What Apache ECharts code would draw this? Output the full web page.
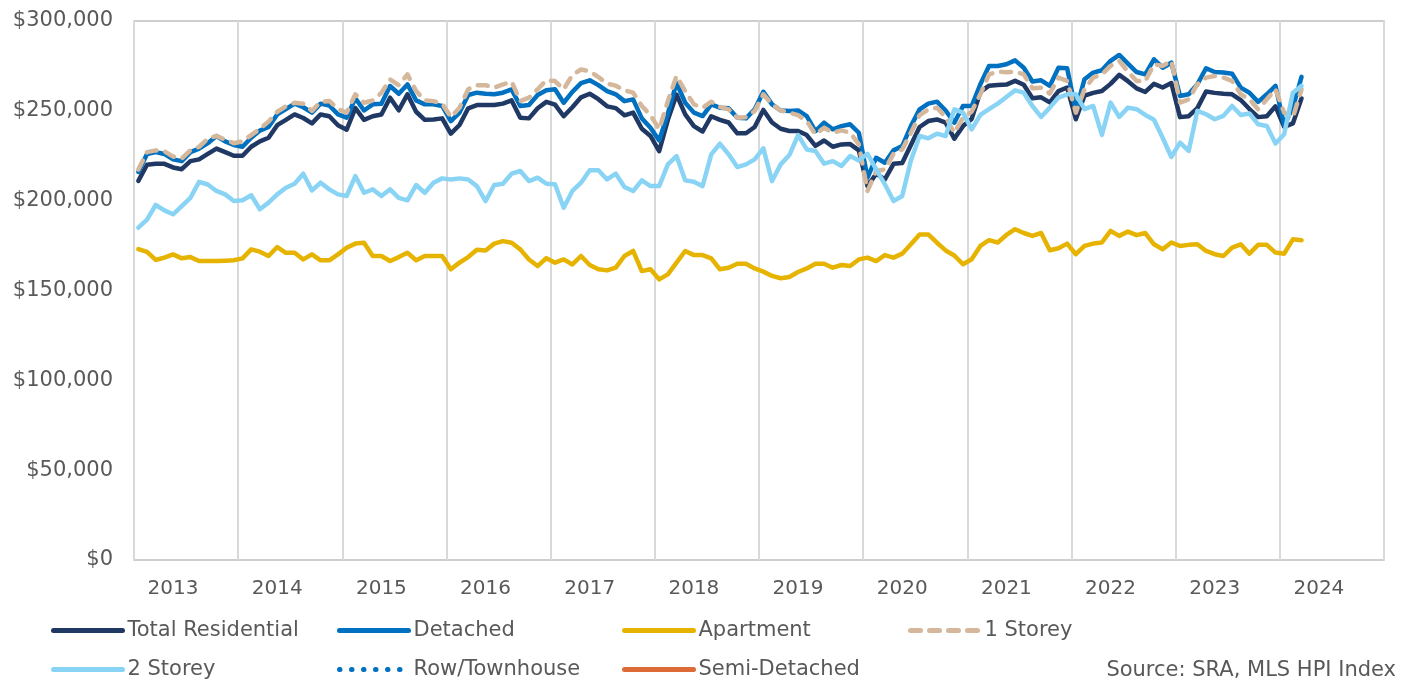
<!DOCTYPE html>
<html>
<head>
<meta charset="utf-8">
<script src="https://cdn.jsdelivr.net/npm/echarts@6/dist/echarts.min.js"></script>
<style>
html,body{margin:0;padding:0;background:#fff;}
#chart{width:1404px;height:686px;}
</style>
</head>
<body>
<div id="chart"></div>
<script>
// ---------- DATA (values in thousands of dollars, monthly from Jan 2013) ----------
const years = ['2013','2014','2015','2016','2017','2018','2019','2020','2021','2022','2023','2024'];
const monthNums = ['01','02','03','04','05','06','07','08','09','10','11','12'];
const yTicks = [0, 50000, 100000, 150000, 200000, 250000, 300000];

const totalResidential = [
  211, 220, 220.5, 220.5, 218.5, 217.5, 222, 223, 226, 229, 227, 225,
  225, 230, 233, 235, 242, 245, 248, 246, 243, 248, 247, 242,
  239.5, 251.5, 245, 247, 248, 257.3, 250.3, 259.2, 249.5, 245, 245.2, 245.8,
  237.3, 242.1, 251.4, 253.2, 253.2, 253.2, 254, 255.8, 246.2, 245.8, 251.4, 255,
  253.5, 247, 252, 257.5, 259.5, 256.5, 252.5, 251.5, 247.5, 249, 240, 236,
  227.5, 245, 259, 248, 241.5, 238.5, 247, 245, 243.5, 237.5, 237.5, 241,
  250.5, 243.5, 240, 238.8, 238.8, 236.5, 230.5, 233.5, 230, 231.3, 231.5, 228,
  208, 215, 211.8, 220.5, 221, 231, 241, 244.3, 245.2, 243.4, 234.5, 241.5,
  245.5, 260.5, 264, 264.4, 264.6, 266.7, 264.5, 257, 257.5, 254.7, 261, 263,
  245.3, 258.5, 260, 261, 265, 270, 266.5, 262.5, 260.5, 265, 263, 265.5,
  246.5, 247, 251.5, 260.8, 260, 259.5, 259.2, 256, 251, 246.5, 247, 252.5,
  241, 243, 257
];
const detached = [
  216, 226, 227, 226, 223, 222, 227, 229, 232, 236, 233, 231,
  230, 235, 239, 241, 248, 251, 254, 252, 249, 254, 253, 248,
  246.2, 257, 250.2, 253.6, 254, 263.8, 259.5, 264.7, 255.8, 253.6, 253.6, 252.7,
  244.3, 249, 258.8, 260.1, 259.5, 259.2, 260.1, 261.9, 252.7, 253.2, 258.8, 261.4,
  262, 254.5, 260.6, 265.4, 267, 264.3, 261, 259.2, 255.4, 256.4, 245.8, 240.6,
  233.5, 248.4, 265.6, 254.5, 249, 247.1, 253.6, 251.7, 251.4, 246.2, 245.8, 250.8,
  260.6, 253.6, 250.2, 249.9, 250.2, 247.1, 238.7, 243.4, 239.7, 241.5, 242.5, 237.8,
  212.8, 223.9, 221.1, 228, 230.4, 241.5, 250.8, 254, 255.1, 250.2, 243.4, 252.7,
  252.7, 264.8, 275, 275, 275.9, 278.1, 274, 266.3, 267, 263.9, 274, 273.7,
  250, 267.6, 271.3, 272.6, 277.8, 281.1, 276.3, 271.6, 270.3, 278.7, 274, 276.8,
  258.3, 259.2, 264.8, 273.7, 271.6, 271.3, 270.7, 262.9, 260.1, 255, 259.2, 263.9,
  242, 251.8, 268.9
];
const apartment = [
  173, 171.5, 167, 168.3, 170.1, 167.9, 168.6, 166.4, 166.4, 166.4, 166.6, 166.8,
  167.9, 172.9, 171.6, 169.2, 174.2, 171, 171, 167.3, 170.1, 166.8, 166.8, 170.1,
  173.8, 176.1, 176.6, 169.2, 169.2, 166.4, 168.6, 171, 166.8, 169.2, 169.2, 169.2,
  161.8, 165.5, 168.6, 172.7, 172.3, 176.1, 177.5, 176.6, 172.9, 167.3, 163.6, 168,
  165.5, 167.3, 164.5, 169.2, 164.2, 161.8, 161.2, 162.7, 169.2, 172, 160.8, 161.8,
  156.2, 159, 165.5, 172, 169.7, 169.7, 167.9, 161.8, 162.7, 164.9, 164.9, 162.3,
  160.5, 158.1, 156.8, 157.5, 160.3, 162.3, 164.9, 164.9, 162.7, 164.2, 163.6, 167.3,
  168.3, 166.4, 169.7, 168.3, 170.5, 175.7, 181.2, 181.2, 176.6, 172.3, 169.5, 164.6,
  167.4, 174.8, 178, 176.7, 180.9, 184.1, 182, 180.4, 182, 172.4, 173.5, 176.1,
  170.2, 174.8, 176.1, 176.7, 183.2, 180.4, 182.8, 180.8, 182, 175.7, 173, 176.7,
  174.8, 175.4, 175.7, 172, 170.2, 169.2, 173.9, 175.7, 170.5, 175.4, 175.4, 171.1,
  170.5, 178.5, 178
];
const oneStorey = [
  217.4, 227, 228, 227.5, 224.5, 223.5, 228, 230, 234.5, 236, 234, 232,
  233, 236.5, 240, 244, 249.5, 252.5, 254.5, 254, 250, 255, 255.5, 251,
  249, 259.2, 254.5, 255.8, 260, 267.5, 264.3, 270.3, 261, 255.8, 255.4, 254,
  246.5, 251.7, 262, 264.3, 264.3, 262.9, 264.7, 266.2, 255.4, 257.3, 262, 267,
  266.6, 262, 269.9, 273, 272.1, 268.8, 265.1, 264, 261.4, 260.1, 252.7, 247.6,
  239.7, 255.4, 269.4, 261, 253.6, 251.7, 255.1, 252.1, 250.8, 246.2, 246.5, 249.9,
  259.2, 253.6, 250.2, 249, 247.6, 244.3, 236.9, 240.6, 237.8, 239.1, 237.8, 231.3,
  205.4, 216.5, 217.4, 226.1, 228.5, 237.8, 247.6, 250.8, 251.7, 246.5, 237.8, 246.2,
  249.6, 259.2, 270.3, 271.8, 271.5, 271.8, 270.3, 262.6, 262.9, 259.6, 268.5, 266.6,
  249, 262, 268.5, 270.3, 275, 277.8, 271.8, 266.6, 266.6, 275.9, 275, 277.8,
  254.6, 256.4, 264.8, 268.5, 269.4, 268.5, 266.6, 259.2, 256.4, 250.9, 256.4, 262,
  249, 246.2, 262
];
const twoStorey = [
  185, 189.5, 197.6, 194.6, 192.4, 197, 201.6, 210.5, 209, 205.4, 203.5, 199.8,
  200.2, 203, 195.2, 198.9, 203.5, 207.2, 209.4, 215, 205.7, 210, 206.3, 203.5,
  202.6, 213.7, 204.4, 206.3, 202.6, 206.3, 201.6, 200.2, 208.7, 204.4, 210, 212.4,
  211.8, 212.4, 211.8, 208.1, 199.8, 208.7, 209.4, 215, 216.5, 210.9, 212.8, 209.4,
  209.1, 196.1, 205.4, 210, 216.9, 216.9, 211.8, 215, 207.6, 205.4, 211.3, 208.1,
  208.1, 220.2, 224.8, 211.3, 210.5, 208.1, 225.8, 231.7, 225.8, 218.7, 220.2, 223,
  229.1, 210.9, 220.2, 225.4, 236.5, 228.5, 227.6, 220.6, 222, 219.3, 224.8, 222.4,
  226.1, 217.4, 209.1, 199.8, 202.6, 222.4, 236, 234.7, 237.3, 236, 250.8, 249,
  239.7, 247.7, 250.9, 254, 257.7, 261.4, 260.1, 252.7, 246.6, 251.8, 257.4, 259.2,
  259.2, 250.9, 252.7, 236.6, 254.6, 246.6, 251.8, 250.9, 247.7, 245, 235, 224.3,
  232.3, 227.7, 250, 248.1, 245.3, 247.2, 252.7, 247.7, 248.5, 242.5, 241.6, 231.8,
  237, 260.1, 263.9
];
const rowTownhouse = [];
const semiDetached = [];

const sourceNote = 'Source: SRA, MLS HPI Index';

// ---------- BUILD ----------
const categories = [];
years.forEach(y => monthNums.forEach(m => categories.push(y + '-' + m)));

const TXT = '#595959';
const FONT = 'DejaVu Sans';

function toDollars(arr) { return arr.map(v => v * 1000); }

function lineSeries(name, data, color, extra) {
  return Object.assign({
    name: name,
    type: 'line',
    data: toDollars(data),
    symbol: 'none',
    showSymbol: false,
    smooth: false,
    itemStyle: { color: color },
    lineStyle: { color: color, width: 4.5, cap: 'round', join: 'round' },
    emphasis: { disabled: true },
    animation: false
  }, extra || {});
}

const series = [
  lineSeries('Total Residential', totalResidential, '#1F3864'),
  lineSeries('Detached', detached, '#0070C0'),
  lineSeries('Apartment', apartment, '#E6B400'),
  lineSeries('1 Storey', oneStorey, '#D5B89C', {
    lineStyle: { color: '#D5B89C', width: 4.5, cap: 'round', join: 'round', type: [10, 9] }
  }),
  lineSeries('2 Storey', twoStorey, '#89D4F5'),
  lineSeries('Row/Townhouse', rowTownhouse, '#0070C0', {
    lineStyle: { color: '#0070C0', width: 4, cap: 'round', join: 'round', type: [0.5, 11.5] }
  }),
  lineSeries('Semi-Detached', semiDetached, '#DC6B37')
];

function legendFor(name, left, top) {
  return {
    data: [name],
    left: left,
    top: top,
    padding: 0,
    itemGap: 0,
    itemWidth: 69,
    itemHeight: 20,
    selectedMode: false,
    textStyle: { color: TXT, fontSize: 21, fontFamily: FONT },
    itemStyle: { color: 'rgba(0,0,0,0)', borderWidth: 0, opacity: 0 },
    lineStyle: { width: 5, cap: 'round' }
  };
}

const option = {
  backgroundColor: '#ffffff',
  animation: false,
  title: {
    text: sourceNote,
    right: 8,
    top: 660,
    padding: 0,
    textStyle: { color: TXT, fontSize: 21, fontWeight: 'normal', fontFamily: FONT }
  },
  legend: [
    legendFor('Total Residential', 51, 620),
    legendFor('Detached', 337, 620),
    legendFor('Apartment', 622, 620),
    legendFor('1 Storey', 908, 620),
    legendFor('2 Storey', 51, 659),
    legendFor('Row/Townhouse', 337, 659),
    legendFor('Semi-Detached', 622, 659)
  ],
  grid: {
    left: 134, right: 20, top: 21, bottom: 126,
    show: true, borderColor: '#BFBFBF', borderWidth: 1.5,
    containLabel: false
  },
  xAxis: {
    type: 'category',
    data: categories,
    boundaryGap: true,
    axisLine: { show: false },
    axisTick: { show: false, interval: (i) => i % 12 === 0 },
    axisLabel: {
      interval: (i) => i % 12 === 4,
      formatter: (v) => v.slice(0, 4),
      color: TXT, fontSize: 20, fontFamily: FONT, margin: 19
    },
    splitLine: {
      show: true,
      interval: (i) => i % 12 === 0,
      lineStyle: { color: '#D9D9D9', width: 2 }
    }
  },
  yAxis: {
    type: 'value',
    min: yTicks[0],
    max: yTicks[yTicks.length - 1],
    interval: yTicks[1] - yTicks[0],
    axisLine: { show: false },
    axisTick: { show: false },
    splitLine: { show: false },
    axisLabel: {
      color: TXT, fontSize: 21, fontFamily: FONT, margin: 21,
      formatter: (v) => '$' + v.toLocaleString('en-US')
    }
  },
  series: series
};

const chart = echarts.init(document.getElementById('chart'), null, { renderer: 'canvas' });
chart.setOption(option);
</script>
</body>
</html>
